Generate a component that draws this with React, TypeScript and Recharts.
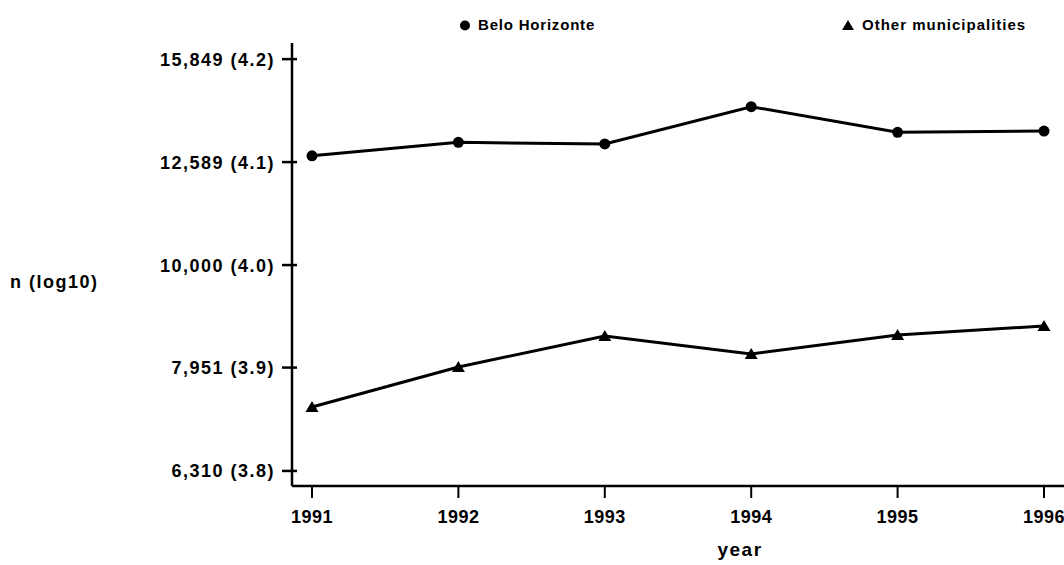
import React from 'react';
import { LineChart, Line, XAxis, YAxis, Legend } from 'recharts';

const years = ['1991', '1992', '1993', '1994', '1995', '1996'];
const beloHorizonte = [12768, 13158, 13110, 14250, 13455, 13495];
const otherMunicipalities = [7280, 7962, 8533, 8196, 8551, 8727];
const yTicks = [6310, 7951, 10000, 12589, 15849];
const yTickLabels = ['6,310 (3.8)', '7,951 (3.9)', '10,000 (4.0)', '12,589 (4.1)', '15,849 (4.2)'];

const data = years.map((year, i) => ({
  year,
  bh: beloHorizonte[i],
  other: otherMunicipalities[i],
}));

const FONT = '"Liberation Sans", Arial, sans-serif';

const YTick = ({ x, y, payload }: any) => {
  const idx = yTicks.indexOf(payload.value);
  return (
    <g>
      <line x1={x + 4} x2={x + 19} y1={y} y2={y} stroke="#000" strokeWidth={2.5} />
      <text
        x={x - 3}
        y={y}
        dy="0.36em"
        textAnchor="end"
        fontFamily={FONT}
        fontWeight="bold"
        fontSize={18}
        letterSpacing={1.5}
        fill="#000"
      >
        {idx >= 0 ? yTickLabels[idx] : payload.value}
      </text>
    </g>
  );
};

const CircleDot = ({ cx, cy }: any) => <circle cx={cx} cy={cy} r={5.5} fill="#000" />;

const TriangleDot = ({ cx, cy }: any) => (
  <path d={`M${cx},${cy - 6} L${cx + 6.5},${cy + 5} L${cx - 6.5},${cy + 5} Z`} fill="#000" />
);

const renderLegend = () => (
  <svg width={1064} height={40} style={{ display: 'block' }}>
    <circle cx={465} cy={25.5} r={5} fill="#000" />
    <text x={478} y={30} fontFamily={FONT} fontWeight="bold" fontSize={15} letterSpacing={0.8} fill="#000">
      Belo Horizonte
    </text>
    <path d="M848,20 L854,30 L842,30 Z" fill="#000" />
    <text x={862} y={30} fontFamily={FONT} fontWeight="bold" fontSize={15} letterSpacing={1} fill="#000">
      Other municipalities
    </text>
  </svg>
);

export default function App() {
  return (
    <div style={{ position: 'absolute', left: 0, top: 0, background: '#fff' }}>
      <LineChart width={1064} height={565} data={data} margin={{ top: 43, right: 0, left: 0, bottom: 0 }}>
        {/* middle alignment keeps the legend out of the plot offset; wrapperStyle pins it to the top */}
        <Legend
          verticalAlign="middle"
          layout="horizontal"
          content={renderLegend}
          wrapperStyle={{ position: 'absolute', top: 0, left: 0, width: 1064, height: 40 }}
        />
        <XAxis
          dataKey="year"
          height={79}
          padding={{ left: 20, right: 20 }}
          axisLine={{ stroke: '#000', strokeWidth: 2.5 }}
          tickLine={{ stroke: '#000', strokeWidth: 2 }}
          tickSize={12}
          tickMargin={12}
          tick={{ fill: '#000', fontSize: 18, fontWeight: 'bold', fontFamily: FONT, letterSpacing: 0.5 }}
          label={{
            value: 'year',
            position: 'insideBottom',
            offset: 9,
            dx: 62,
            fill: '#000',
            fontSize: 19,
            fontWeight: 'bold',
            fontFamily: FONT,
            letterSpacing: 1.5,
          }}
        />
        <YAxis
          width={292}
          scale="log"
          domain={[6101, 16431]}
          allowDataOverflow
          ticks={yTicks}
          interval={0}
          tickSize={10}
          tickMargin={4}
          tickLine={false}
          axisLine={{ stroke: '#000', strokeWidth: 2.5 }}
          tick={<YTick />}
          label={{
            value: 'n (log10)',
            position: 'insideLeft',
            offset: 10,
            dy: 17,
            fill: '#000',
            fontSize: 18,
            fontWeight: 'bold',
            fontFamily: FONT,
            letterSpacing: 1.5,
          }}
        />
        <Line
          dataKey="bh"
          name="Belo Horizonte"
          stroke="#000"
          strokeWidth={3}
          dot={<CircleDot />}
          activeDot={false}
          isAnimationActive={false}
        />
        <Line
          dataKey="other"
          name="Other municipalities"
          stroke="#000"
          strokeWidth={3}
          dot={<TriangleDot />}
          activeDot={false}
          isAnimationActive={false}
        />
      </LineChart>
    </div>
  );
}
